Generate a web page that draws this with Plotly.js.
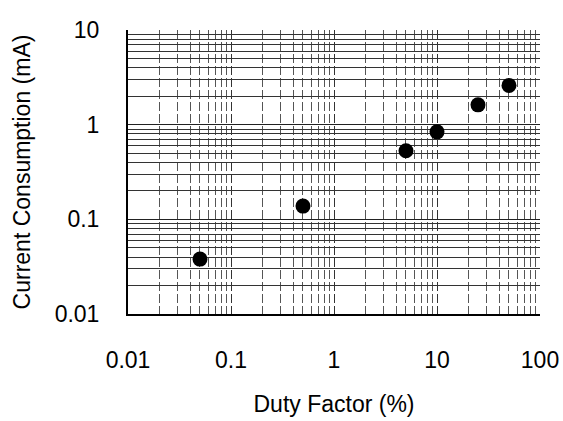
<!DOCTYPE html>
<html>
<head>
<meta charset="utf-8">
<script src="https://cdn.plot.ly/plotly-3.0.1.min.js"></script>
<style>html,body{margin:0;padding:0;background:#fff;}#chart{width:563px;height:421px;}</style>
</head>
<body>
<div id="chart"></div>
<script>
const dutyFactor = [0.05, 0.5, 5, 10, 25, 50];
const currentMA = [0.038, 0.138, 0.53, 0.84, 1.62, 2.6];
const xTickVals = [0.01, 0.1, 1, 10, 100];
const xTickText = ['0.01', '0.1', '1', '10', '100'];
const yTickVals = [0.01, 0.1, 1, 10];
const yTickText = ['0.01', '0.1', '1', '10'];

const font = {family: 'Liberation Sans, Arial, sans-serif', size: 23, color: '#000'};

Plotly.newPlot('chart', [{
  x: dutyFactor,
  y: currentMA,
  type: 'scatter',
  mode: 'markers',
  marker: {color: '#000', size: 15},
  hoverinfo: 'none'
}], {
  width: 563, height: 421,
  margin: {l: 128, r: 23, t: 30, b: 107},
  paper_bgcolor: '#fff', plot_bgcolor: '#fff',
  showlegend: false,
  font: font,
  xaxis: {
    type: 'log',
    range: [-2, 2],
    tickvals: xTickVals, ticktext: xTickText,
    ticks: '', ticklabelstandoff: 24,
    showline: true, linecolor: '#000', linewidth: 2,
    showgrid: true, gridcolor: '#333', gridwidth: 1, griddash: '9px,3px',
    zeroline: false,
    minor: {dtick: 'D1', showgrid: true, gridcolor: '#555', gridwidth: 1, griddash: '9px,3px', ticks: ''},
    title: {text: 'Duty Factor (%)', font: font, standoff: 24},
    tickfont: font
  },
  yaxis: {
    type: 'log',
    range: [-2, 1],
    tickvals: yTickVals, ticktext: yTickText,
    ticks: '', ticklabelstandoff: 22,
    showline: true, linecolor: '#000', linewidth: 2,
    showgrid: true, gridcolor: '#222', gridwidth: 1,
    zeroline: false,
    minor: {dtick: 'D1', showgrid: true, gridcolor: '#333', gridwidth: 1, ticks: ''},
    title: {text: 'Current Consumption (mA)', font: font, standoff: 18},
    tickfont: font
  }
}, {staticPlot: true});
</script>
</body>
</html>
